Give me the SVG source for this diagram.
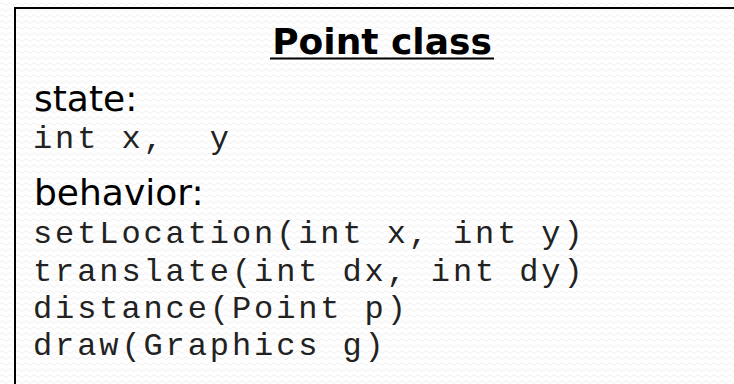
<svg xmlns="http://www.w3.org/2000/svg" width="734" height="384" viewBox="0 0 734 384">
<defs>
<pattern id="bg" width="8" height="6" patternUnits="userSpaceOnUse">
<path d="M0 4 Q2 1 4 4 T8 4" fill="none" stroke="#f0f0f0" stroke-width="1"/>
</pattern>
<style>
.sans{font-family:"DejaVu Sans",Verdana,sans-serif;font-size:36px;fill:#000}
.title{font-family:"DejaVu Sans",Verdana,sans-serif;font-size:36px;font-weight:bold;fill:#000}
.mono{font-family:"Liberation Mono","Courier New",monospace;font-size:32px;letter-spacing:2.9px;fill:#222;white-space:pre}
</style>
</defs>
<rect x="0" y="0" width="734" height="384" fill="#ffffff"/>
<rect x="0" y="0" width="734" height="384" fill="url(#bg)"/>
<g id="point-class">
<rect x="15" y="8" width="740" height="400" fill="none" stroke="#000" stroke-width="2"/>
<text class="title" x="382" y="54" text-anchor="middle">Point class</text>
<line x1="270" y1="58.5" x2="494" y2="58.5" stroke="#000" stroke-width="2"/>
<text class="sans" x="34" y="111">state:</text>
<text class="mono" x="33" y="148" xml:space="preserve">int x,  y</text>
<text class="sans" x="34" y="205">behavior:</text>
<text class="mono" x="33" y="243">setLocation(int x, int y)</text>
<text class="mono" x="33" y="281">translate(int dx, int dy)</text>
<text class="mono" x="33" y="318">distance(Point p)</text>
<text class="mono" x="33" y="355">draw(Graphics g)</text>
</g>
</svg>
